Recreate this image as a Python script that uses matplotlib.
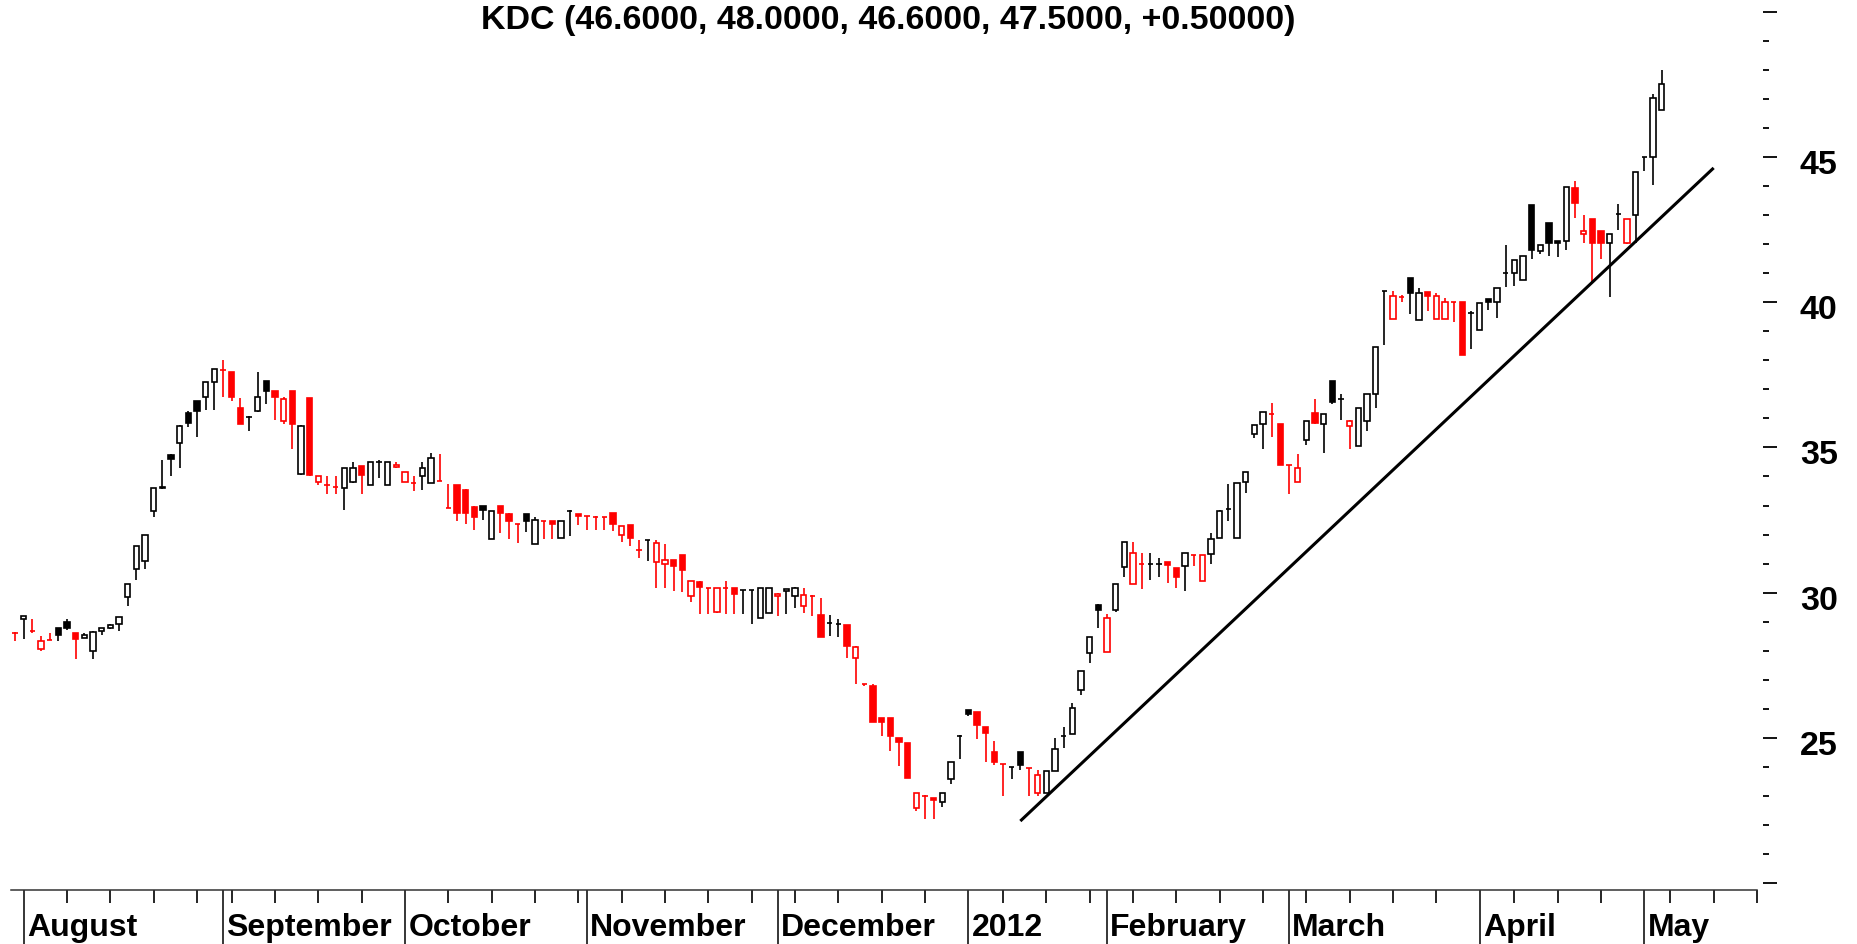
import numpy as np
import pandas as pd
import matplotlib
matplotlib.use("Agg")
import matplotlib.pyplot as plt
import matplotlib.transforms as mtransforms
from matplotlib.patches import Rectangle
from matplotlib.ticker import MultipleLocator

plt.rcParams["font.family"] = ["Liberation Sans", "DejaVu Sans"]

RED = "#ff0000"
BLACK = "#000000"

TITLE = "KDC (46.6000, 48.0000, 46.6000, 47.5000, +0.50000)"

# HOSE sessions, weekday holidays removed
holidays = ["2011-09-02", "2012-01-02", "2012-01-23", "2012-01-24", "2012-01-25",
            "2012-01-26", "2012-01-27", "2012-04-02", "2012-04-30", "2012-05-01"]
sessions = pd.bdate_range("2011-07-29", "2012-05-25", freq="C", holidays=holidays)

opens = [
    28.6, 29.1, 28.67, 28.05, 28.38, 28.8, 29.0, 28.6, 28.45, 28.0,
    28.67, 28.8, 28.93, 29.85, 30.8, 31.1, 32.8, 33.6, 34.75, 35.15,
    36.2, 36.6, 36.75, 37.25, 37.65, 37.6, 36.35, 36.05, 36.25, 37.3,
    36.95, 35.9, 36.95, 34.1, 36.7, 33.8, 33.7, 33.65, 33.6, 33.8,
    34.35, 33.72, 34.5, 33.72, 34.32, 33.8, 33.78, 34.0, 33.78, 33.84,
    32.9, 33.7, 33.55, 32.95, 32.97, 31.85, 32.97, 32.72, 32.38, 32.7,
    31.67, 32.45, 32.45, 31.88, 32.82, 32.72, 32.63, 32.6, 32.6, 32.73,
    32.0, 32.34, 31.46, 31.8, 31.07, 30.98, 31.14, 31.3, 29.88, 30.38,
    30.17, 29.34, 30.17, 30.15, 30.08, 30.08, 29.13, 29.31, 29.88, 30.06,
    29.88, 29.54, 29.9, 29.23, 28.94, 28.93, 28.88, 27.75, 26.85, 26.8,
    25.68, 25.68, 25.01, 24.82, 22.59, 23.0, 22.94, 22.8, 23.6, 25.08,
    25.97, 25.89, 25.39, 24.53, 24.09, 24.0, 24.5, 23.95, 23.09, 23.09,
    23.86, 25.08, 25.13, 26.66, 27.93, 29.57, 27.96, 29.39, 30.89, 30.29,
    30.98, 31.0, 31.0, 31.04, 30.84, 30.92, 31.3, 30.4, 31.33, 31.88,
    32.88, 31.88, 33.8, 35.47, 35.8, 36.16, 35.8, 34.38, 33.8, 35.27,
    36.19, 35.82, 37.29, 36.68, 35.73, 35.05, 35.91, 36.83, 40.37, 39.42,
    40.17, 40.83, 39.37, 40.34, 39.42, 39.42, 40.02, 39.99, 39.62, 39.04,
    40.1, 39.99, 41.0, 41.0, 40.77, 43.33, 41.75, 42.71, 42.1, 42.1,
    43.94, 42.36, 42.85, 42.44, 42.02, 43.02, 42.02, 42.99, 44.98, 45.01, 46.6,
]
highs = [
    28.65, 29.2, 29.08, 28.5, 28.62, 28.8, 29.1, 28.62, 28.6, 28.67,
    28.8, 28.92, 29.17, 30.3, 31.6, 32.0, 33.6, 34.55, 34.76, 35.76,
    36.25, 36.6, 37.25, 37.7, 38.0, 37.6, 36.7, 36.07, 37.6, 37.3,
    36.95, 36.75, 36.95, 35.76, 36.7, 34.0, 34.0, 34.0, 34.3, 34.5,
    34.35, 34.5, 34.55, 34.5, 34.5, 34.15, 34.0, 34.5, 34.8, 34.76,
    33.75, 33.7, 33.57, 32.97, 32.97, 32.82, 32.97, 32.73, 32.38, 32.7,
    32.6, 32.45, 32.45, 32.45, 32.85, 32.72, 32.63, 32.63, 32.62, 32.73,
    32.3, 32.34, 31.8, 31.82, 31.82, 31.67, 31.14, 31.3, 30.4, 30.4,
    30.17, 30.17, 30.4, 30.15, 30.1, 30.1, 30.15, 30.15, 30.0, 30.12,
    30.2, 30.15, 29.92, 29.8, 29.23, 29.08, 28.9, 28.15, 26.85, 26.85,
    25.7, 25.68, 25.01, 24.82, 23.09, 23.03, 22.95, 23.1, 24.16, 25.1,
    25.97, 25.89, 25.39, 24.9, 24.1, 24.0, 24.5, 23.95, 23.9, 23.86,
    25.0, 25.36, 26.2, 27.3, 28.47, 29.6, 29.27, 30.29, 31.73, 31.73,
    31.36, 31.36, 31.21, 31.04, 30.84, 31.36, 31.3, 31.3, 32.04, 32.85,
    33.74, 33.78, 34.15, 35.76, 36.22, 36.53, 35.8, 34.38, 34.76, 35.91,
    36.68, 36.16, 37.29, 36.83, 35.95, 36.34, 36.83, 38.45, 40.4, 40.4,
    40.25, 40.83, 40.5, 40.34, 40.3, 40.14, 40.02, 39.99, 39.68, 39.97,
    40.1, 40.5, 41.95, 41.46, 41.6, 43.33, 41.98, 42.71, 42.1, 43.98,
    44.17, 42.99, 42.85, 42.44, 42.36, 43.37, 42.85, 44.48, 45.0, 47.17, 48.0,
]
lows = [
    28.35, 28.4, 28.62, 28.0, 28.38, 28.35, 28.7, 27.7, 28.45, 27.7,
    28.55, 28.75, 28.67, 29.55, 30.45, 30.8, 32.6, 33.57, 34.0, 34.3,
    35.7, 35.35, 36.3, 36.3, 36.75, 36.6, 35.8, 35.55, 36.22, 36.5,
    35.95, 35.8, 34.95, 34.05, 34.03, 33.72, 33.4, 33.4, 32.85, 33.78,
    33.4, 33.72, 33.95, 33.72, 34.3, 33.8, 33.5, 33.55, 33.78, 33.84,
    32.9, 32.45, 32.35, 32.15, 32.5, 31.84, 32.05, 31.85, 31.7, 32.1,
    31.67, 31.85, 31.84, 31.88, 31.95, 32.33, 32.15, 32.15, 32.15, 32.13,
    31.73, 31.6, 31.2, 31.1, 30.17, 30.17, 30.05, 30.03, 29.68, 29.27,
    29.27, 29.3, 29.27, 29.27, 29.27, 28.93, 29.13, 29.3, 29.19, 29.27,
    29.48, 29.3, 29.19, 28.47, 28.5, 28.47, 27.75, 26.85, 26.8, 25.54,
    25.05, 24.55, 24.04, 23.63, 22.5, 22.22, 22.22, 22.63, 23.4, 24.27,
    25.74, 24.96, 24.16, 24.07, 23.01, 23.6, 23.89, 23.0, 23.0, 23.09,
    23.86, 24.67, 25.13, 26.49, 27.58, 28.77, 27.96, 29.35, 30.54, 30.29,
    30.12, 30.43, 30.54, 30.35, 30.15, 30.06, 30.92, 30.4, 31.0, 31.88,
    32.45, 31.88, 33.42, 35.33, 34.95, 35.36, 34.38, 33.38, 33.8, 35.1,
    35.8, 34.8, 36.5, 35.96, 34.95, 35.05, 35.57, 36.37, 38.53, 39.42,
    40.0, 39.6, 39.37, 39.68, 39.42, 39.42, 39.33, 38.18, 38.38, 39.04,
    39.74, 39.45, 40.52, 40.57, 40.77, 41.49, 41.67, 41.58, 41.56, 41.81,
    42.9, 42.02, 40.66, 41.49, 40.17, 42.5, 42.0, 42.02, 44.52, 44.02, 46.6,
]
closes = [
    28.6, 29.2, 28.67, 28.35, 28.38, 28.55, 28.8, 28.4, 28.55, 28.65,
    28.77, 28.9, 29.17, 30.3, 31.6, 32.0, 33.6, 33.65, 34.6, 35.75,
    35.85, 36.25, 37.25, 37.7, 37.65, 36.75, 35.8, 36.05, 36.75, 36.95,
    36.75, 36.65, 35.8, 35.75, 34.05, 34.0, 33.7, 33.65, 34.3, 34.3,
    34.05, 34.5, 34.5, 34.5, 34.4, 34.15, 33.78, 34.3, 34.65, 33.84,
    32.9, 32.75, 32.75, 32.6, 32.85, 32.8, 32.75, 32.45, 32.38, 32.48,
    32.5, 32.45, 32.36, 32.45, 32.82, 32.65, 32.63, 32.6, 32.6, 32.38,
    32.3, 31.88, 31.46, 31.8, 31.7, 31.14, 30.92, 30.78, 30.4, 30.2,
    30.17, 30.17, 30.17, 29.94, 30.08, 30.08, 30.15, 30.15, 29.96, 30.11,
    30.17, 29.91, 29.9, 28.47, 28.94, 28.93, 28.16, 28.12, 26.85, 25.55,
    25.54, 25.05, 24.87, 23.63, 23.09, 23.0, 22.85, 23.09, 24.16, 25.08,
    25.82, 25.43, 25.16, 24.16, 24.09, 24.0, 24.07, 23.95, 23.74, 23.86,
    24.62, 25.08, 26.03, 27.29, 28.47, 29.42, 29.13, 30.29, 31.73, 31.36,
    30.98, 31.0, 31.0, 30.96, 30.54, 31.36, 31.3, 31.3, 31.84, 32.82,
    32.88, 33.78, 34.15, 35.76, 36.22, 36.16, 34.38, 34.38, 34.3, 35.91,
    35.84, 36.16, 36.57, 36.68, 35.91, 36.34, 36.83, 38.45, 40.37, 40.2,
    40.17, 40.31, 40.31, 40.2, 40.2, 40.02, 40.02, 38.18, 39.62, 39.97,
    40.02, 40.49, 41.0, 41.46, 41.6, 41.79, 41.98, 42.02, 42.02, 43.98,
    43.42, 42.44, 42.02, 42.02, 42.36, 43.02, 42.85, 44.48, 44.98, 47.02, 47.5,
]
# r = close below previous close, k = otherwise
colors = list(
    "rkrrrkkrkk" "kkkkkkkkkk" "kkkkrrrkkk" "rrrkrrrrkk" "rkkkrrrkkr"
    "rrrrkkrrrk" "krrkkrrrrr" "rrrkrrrrrr" "rrrrkkkkrk" "krrrkkrrrr"
    "rrrrrrrkkk" "krrrrkkrrk" "kkkkkkrkkr" "rkkrrkrrkk" "kkkkkrrrrk"
    "rkkkrkkkkr" "rkkrrrrrkk" "kkkkkkkkkk" "rrrrkkrkkk" "k"
)

month_names = ["August", "September", "October", "November", "December",
               "2012", "February", "March", "April", "May"]

trend_dates = ["2012-01-11", "2012-05-14"]
trend_values = [22.14, 44.62]

y_major = list(range(20, 51, 5))
y_labels = ["", "25", "30", "35", "40", "45", ""]

BODY = 0.6
LW = 1.2

fig = plt.figure(figsize=(18.58, 9.45), dpi=100)
fig.patch.set_facecolor("white")
ax = fig.add_axes([11 / 1858, (945 - 890.6) / 945, (1757 - 11) / 1858, 880.6 / 945])
ax.set_xlim(-0.46, 201)
ax.set_ylim(19.78, 50.09)

# spine placement first: set_position resets the ticks
ax.spines["right"].set_position(("outward", 4.3))
for s in ["top", "left", "right"]:
    ax.spines[s].set_visible(False)
ax.spines["bottom"].set_color("#333333")
ax.spines["bottom"].set_linewidth(1.1)

pos = np.arange(len(opens))
pal = [RED if c == "r" else BLACK for c in colors]
ax.vlines(pos, lows, highs, colors=pal, lw=LW, zorder=2)
for x, o, c, clr in zip(pos, opens, closes, pal):
    face = "white" if c >= o else clr
    ax.add_patch(Rectangle((x - BODY / 2, min(o, c)), BODY, abs(c - o),
                           facecolor=face, edgecolor=clr, lw=LW, zorder=3))

# trend line
tpos = [sessions.get_loc(pd.Timestamp(d)) for d in trend_dates]
ax.plot(tpos, trend_values, color=BLACK, lw=2.2, zorder=4, solid_capstyle="butt")

# x axis: month separators and weekly ticks
dser = pd.Series(sessions)
month_start = np.where(dser.dt.month.values[1:] != dser.dt.month.values[:-1])[0] + 1
week_id = dser.dt.to_period("W").values
week_start = [i for i in range(1, len(sessions)) if week_id[i] != week_id[i - 1]]
ax.set_xticks(month_start)
ax.set_xticks(week_start, minor=True)
ax.tick_params(axis="x", which="major", direction="out", length=39, width=1.1,
               labelbottom=False, color=BLACK)
ax.tick_params(axis="x", which="minor", direction="out", length=9.4, width=1.2,
               color=BLACK)
for p, name in zip(month_start, month_names):
    ax.annotate(name, xy=(p, 0), xycoords=("data", "axes fraction"),
                xytext=(2.4, -32.7), textcoords="offset points",
                ha="left", va="baseline", fontsize=23, fontweight="bold",
                annotation_clip=False)

# y axis on the right, no spine line
ax.yaxis.set_minor_locator(MultipleLocator(1))
ax.tick_params(axis="y", which="both", direction="out", width=1.3,
               left=False, right=True, labelleft=False, labelright=True)
ax.tick_params(axis="y", which="major", length=10, pad=16.5, labelsize=24.5)
ax.tick_params(axis="y", which="minor", length=4.3)
ax.set_yticks(y_major)
ax.set_yticklabels(y_labels)
shift = mtransforms.ScaledTranslation(0, -0.04, fig.dpi_scale_trans)
for t in ax.yaxis.get_major_ticks():
    t.label2.set_fontweight("bold")
    t.label2.set_transform(t.label2.get_transform() + shift)

fig.text(888 / 1858, 1 - 21 / 945, TITLE, ha="center", va="center",
         fontsize=24.5, fontweight="bold")

fig.savefig("out.png", dpi=100, facecolor="white")
